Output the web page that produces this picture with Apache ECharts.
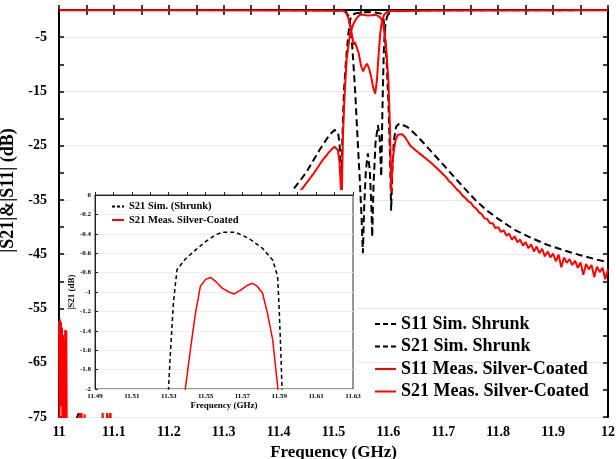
<!DOCTYPE html>
<html>
<head>
<meta charset="utf-8">
<script src="https://cdn.jsdelivr.net/npm/echarts/dist/echarts.min.js"></script>
<style>
  html, body { margin: 0; padding: 0; background: #fff; }
  #chart { width: 616px; height: 459px; }
</style>
</head>
<body>
<div id="chart"></div>
<script>
// ---- Filter response data (frequency in GHz, magnitude in dB) ----

// S11, simulated, shrunk cavity
const s11SimFreq = [11.0, 11.2, 11.4, 11.5, 11.51, 11.5145, 11.518, 11.522, 11.525, 11.528, 11.531, 11.534,
  11.537, 11.540, 11.544, 11.548, 11.551, 11.5535, 11.556, 11.559, 11.5626, 11.566, 11.569, 11.5705,
  11.573, 11.5765, 11.5809, 11.584, 11.587, 11.589, 11.5905, 11.592, 11.594, 11.597, 11.600, 11.605,
  11.62, 11.8, 12.0];
const s11SimDb = [-0.01, -0.01, -0.02, -0.05, -0.06, -0.02, -0.1, -0.2, -0.5, -1.3, -3.2, -6.5,
  -11, -16, -24, -31.5, -38, -44.8, -36, -29.5, -26.4, -29.5, -36, -41.8,
  -32, -24.5, -21.2, -23.5, -30.7, -19, -12, -6.5, -3.2, -1.4, -0.6, -0.2,
  -0.08, -0.03, -0.02];

// S21, simulated, shrunk cavity
const s21SimFreq = [11.0, 11.02, 11.04, 11.10, 11.15, 11.20, 11.25, 11.30, 11.35, 11.40, 11.4258, 11.45,
  11.4745, 11.4927, 11.5018, 11.508, 11.511, 11.513, 11.5145, 11.516, 11.519, 11.523, 11.527, 11.5299,
  11.531, 11.5326, 11.5345, 11.539, 11.545, 11.550, 11.5554, 11.559, 11.5664, 11.5737, 11.5809, 11.5864,
  11.5891, 11.590, 11.5908, 11.5915, 11.594, 11.597, 11.600, 11.603, 11.605, 11.607, 11.610, 11.614,
  11.620, 11.635, 11.65, 11.665, 11.68, 11.70, 11.72, 11.74, 11.76, 11.78, 11.80, 11.83,
  11.86, 11.89, 11.92, 11.95, 11.98, 12.0];
const s21SimDb = [-80, -79, -73, -66, -61, -56.5, -52, -47.5, -42.5, -37, -33.2, -30.0,
  -25.8, -23.0, -22.1, -22.5, -24.5, -29, -36, -24, -15, -9, -4.5, -2.0,
  -1.6, -1.1, -0.77, -0.66, -0.56, -0.48, -0.41, -0.385, -0.385, -0.45, -0.55, -0.67,
  -0.84, -1.2, -1.6, -2.0, -5, -10, -17, -27, -37, -30, -24, -21.5,
  -20.9, -21.6, -23.0, -24.6, -26.3, -28.5, -30.8, -33.0, -35.2, -37.0, -38.5, -40.5,
  -42.0, -43.3, -44.3, -45.2, -46.0, -46.5];

// S11, measured, silver-coated
const s11MeasFreq = [11.0, 11.2, 11.4, 11.5, 11.51, 11.5145, 11.52, 11.524, 11.527, 11.531, 11.534, 11.537,
  11.539, 11.542, 11.546, 11.550, 11.554, 11.558, 11.561, 11.565, 11.569, 11.573, 11.576, 11.579,
  11.582, 11.585, 11.588, 11.592, 11.597, 11.605, 11.62, 11.7, 12.0];
const s11MeasDb = [-0.05, -0.06, -0.08, -0.15, -0.2, -0.1, -0.25, -0.7, -1.5, -3, -4.8, -6.4,
  -5.9, -6.2, -8, -10.2, -11.3, -10.4, -9.9, -10.8, -12.5, -14.6, -15.4, -13,
  -8.5, -4.5, -2.2, -0.9, -0.4, -0.15, -0.2, -0.1, -0.06];

// S21, measured, silver-coated
const s21MeasFreq = [11.000, 11.001, 11.0018, 11.0028, 11.0036, 11.0046, 11.0054, 11.0062, 11.0072, 11.008,
  11.0092, 11.0102, 11.0112, 11.0125, 11.0133, 11.0142, 11.016, 11.037, 11.0375, 11.0385,
  11.0392, 11.0402, 11.041, 11.042, 11.046, 11.0465, 11.0475, 11.079, 11.0795, 11.0805,
  11.087, 11.0875, 11.0885, 11.092, 11.0925, 11.0935, 11.0945, 11.20, 11.30, 11.35,
  11.40, 11.441, 11.462, 11.4805, 11.4927, 11.5018, 11.508, 11.511, 11.5135, 11.5148,
  11.517, 11.520, 11.524, 11.530, 11.535, 11.539, 11.542, 11.5445, 11.5472, 11.550,
  11.5527, 11.5554, 11.559, 11.5627, 11.5655, 11.569, 11.5728, 11.5755, 11.578, 11.5809,
  11.5836, 11.5864, 11.5891, 11.592, 11.596, 11.600, 11.603, 11.605, 11.607, 11.610,
  11.613, 11.617, 11.620, 11.625, 11.630, 11.640, 11.650, 11.660, 11.670, 11.680,
  11.690, 11.700, 11.705, 11.710, 11.715, 11.720, 11.725, 11.730, 11.735, 11.740,
  11.745, 11.750, 11.755, 11.760, 11.765, 11.770, 11.775, 11.780, 11.785, 11.790,
  11.795, 11.800, 11.805, 11.810, 11.815, 11.820, 11.825, 11.830, 11.835, 11.840,
  11.845, 11.850, 11.855, 11.860, 11.865, 11.870, 11.875, 11.880, 11.885, 11.890,
  11.895, 11.900, 11.905, 11.910, 11.915, 11.920, 11.925, 11.930, 11.935, 11.940,
  11.945, 11.950, 11.955, 11.960, 11.965, 11.970, 11.975, 11.980, 11.985, 11.990,
  11.995, 12.000];
const s21MeasDb = [-57.5, -75.5, -57, -73, -57.5, -67, -58.5, -77, -60, -79,
  -61, -77, -59, -64, -59, -78, -80, -80, -74, -80,
  -73.8, -80, -74.2, -80, -80, -74.5, -80, -80, -74, -80,
  -80, -73.9, -80, -80, -74.3, -80, -69, -66, -58, -47,
  -39, -33.2, -30.4, -27.6, -26.1, -25.2, -25.8, -28, -33, -36,
  -24, -16, -9, -4.5, -2.9, -2.0, -1.56, -1.22, -0.94, -0.87,
  -0.85, -0.89, -0.96, -1.0, -1.02, -0.98, -0.93, -0.91, -0.94, -1.01,
  -1.22, -1.49, -1.97, -3.5, -7, -13, -22, -33.5, -29, -25.8,
  -24, -23, -22.7, -22.9, -23.4, -25.0, -25.9, -26.7, -27.5, -28.4,
  -29.3, -30.3, -30.8, -31.5, -31.9, -32.5, -33.1, -33.5, -34.2, -34.6,
  -35.2, -35.5, -36.2, -36.6, -37.3, -37.6, -38.4, -38.5, -39.3, -39.3,
  -40.2, -40.0, -40.9, -40.6, -41.6, -41.2, -42.3, -41.7, -42.8, -42.3,
  -43.4, -42.8, -43.9, -43.2, -44.5, -43.6, -44.8, -44.0, -45.4, -44.5,
  -45.6, -44.9, -46.3, -45.1, -47.4, -45.6, -46.6, -45.9, -47.0, -46.2,
  -47.5, -46.5, -48.8, -46.8, -47.8, -47.0, -49.2, -47.3, -48.3, -47.5,
  -49.6, -47.8];

// ---- Chart ----
const FONT = '"Liberation Serif", "Times New Roman", serif';
const BLACK = '#000';
const RED = '#ff0000';
const pairs = (xs, ys) => xs.map((x, i) => [x, ys[i]]);

const mainFreqLabel = v => {
  const k = Math.round(v * 100);
  return k % 10 === 0 ? String(Math.round(v * 10) / 10) : '';
};
const mainDbLabel = v => (Math.round(v) % 10 === -5 ? String(Math.round(v)) : '');
const insetFreqLabel = v => {
  const k = Math.round((v - 11.49) * 100);
  return k % 2 === 0 ? v.toFixed(2) : '';
};
const insetDbLabel = v => String(Number(v.toFixed(1)) + 0);

const boldText = (size) => ({ fontFamily: FONT, fontWeight: 'bold', fontSize: size, color: BLACK });

const mainTick = { show: true, inside: true, length: 5, lineStyle: { color: BLACK, width: 1.5 } };
const mainLine = { show: true, lineStyle: { color: BLACK, width: 2 } };

const chart = echarts.init(document.getElementById('chart'), null, { renderer: 'canvas' });

chart.setOption({
  animation: false,
  backgroundColor: '#fff',
  grid: [
    { left: 59, right: 8, top: 10, bottom: 42, outerBoundsMode: 'none', containLabel: false },
    { left: 95, top: 195, width: 258, height: 194, show: true, backgroundColor: '#fff',
      borderColor: '#333', borderWidth: 1, z: 5, outerBoundsMode: 'none', containLabel: false }
  ],
  graphic: [
    // white panel that carries the zoomed passband view
    { type: 'rect', shape: { x: 70, y: 190, width: 288, height: 223 },
      style: { fill: '#fff' }, z: 4, silent: true }
  ],
  xAxis: [
    { gridIndex: 0, type: 'value', position: 'bottom', min: 11, max: 12, interval: 0.05,
      axisLine: mainLine, axisTick: mainTick, splitLine: { show: false },
      axisLabel: Object.assign({ margin: 8, formatter: mainFreqLabel, showMinLabel: true, showMaxLabel: true }, boldText(14)),
      name: 'Frequency (GHz)', nameLocation: 'middle', nameGap: 21, nameTextStyle: boldText(17) },
    { gridIndex: 0, type: 'value', position: 'top', min: 11, max: 12, interval: 0.05,
      axisLine: mainLine, axisTick: mainTick, splitLine: { show: false }, axisLabel: { show: false } },
    { gridIndex: 1, type: 'value', position: 'bottom', min: 11.49, max: 11.63, interval: 0.01, z: 6,
      axisLine: { show: true, lineStyle: { color: '#222', width: 1 } },
      axisTick: { show: true, inside: true, length: 3, lineStyle: { color: '#222', width: 1 } },
      splitLine: { show: false },
      axisLabel: Object.assign({ margin: 4, formatter: insetFreqLabel, showMinLabel: true, showMaxLabel: true }, boldText(7)),
      name: 'Frequency (GHz)', nameLocation: 'middle', nameGap: 12, nameTextStyle: boldText(9) }
  ],
  yAxis: [
    { gridIndex: 0, type: 'value', position: 'left', min: -75, max: 0, interval: 5,
      axisLine: mainLine, axisTick: mainTick,
      splitLine: { show: true, lineStyle: { color: ['#e8e8e8', 'rgba(0,0,0,0)'], width: 1 } },
      axisLabel: Object.assign({ margin: 12, formatter: mainDbLabel, showMinLabel: true, showMaxLabel: true }, boldText(14)),
      name: '|S21|&|S11| (dB)', nameLocation: 'middle', nameGap: 27,
      nameTextStyle: Object.assign({ padding: [0, 0, 0, 46] }, boldText(18)) },
    { gridIndex: 0, type: 'value', position: 'right', min: -75, max: 0, interval: 5,
      axisLine: mainLine, axisTick: mainTick, splitLine: { show: false }, axisLabel: { show: false } },
    { gridIndex: 1, type: 'value', position: 'left', min: -2, max: 0, interval: 0.2, z: 6,
      axisLine: { show: true, lineStyle: { color: '#222', width: 1 } },
      axisTick: { show: true, inside: true, length: 3, lineStyle: { color: '#222', width: 1 } },
      splitLine: { show: true, lineStyle: { color: '#eeeeee', width: 1 } },
      axisLabel: Object.assign({ margin: 4, formatter: insetDbLabel, showMinLabel: true, showMaxLabel: true }, boldText(7)),
      name: '|S21 (dB)', nameLocation: 'middle', nameGap: 15, nameTextStyle: boldText(9) }
  ],
  legend: [
    { orient: 'vertical', left: 369, top: 310, itemWidth: 21, itemHeight: 14, itemGap: 4.5,
      textStyle: boldText(18), z: 10, selectedMode: false, itemStyle: { opacity: 0 },
      data: [
        { name: 'S11 Sim. Shrunk', lineStyle: { type: [5, 3] } },
        { name: 'S21 Sim. Shrunk', lineStyle: { type: [5, 3] } },
        'S11 Meas. Silver-Coated', 'S21 Meas. Silver-Coated'] },
    { orient: 'vertical', left: 106, top: 196, itemWidth: 12, itemHeight: 8, itemGap: 2.5,
      textStyle: boldText(10.5), z: 10, selectedMode: false, itemStyle: { opacity: 0 },
      data: [{ name: 'S21 Sim. (Shrunk)', lineStyle: { type: [3, 2] } }, 'S21 Meas. Silver-Coated'] }
  ],
  series: [
    { name: 'S11 Sim. Shrunk', type: 'line', xAxisIndex: 0, yAxisIndex: 0, z: 2,
      symbol: 'none', showSymbol: false, data: pairs(s11SimFreq, s11SimDb),
      itemStyle: { color: BLACK }, lineStyle: { color: BLACK, width: 2, type: [7, 4] } },
    { name: 'S21 Sim. Shrunk', type: 'line', xAxisIndex: 0, yAxisIndex: 0, z: 2,
      symbol: 'none', showSymbol: false, data: pairs(s21SimFreq, s21SimDb),
      itemStyle: { color: BLACK }, lineStyle: { color: BLACK, width: 2, type: [7, 4] } },
    { name: 'S11 Meas. Silver-Coated', type: 'line', xAxisIndex: 0, yAxisIndex: 0, z: 3,
      symbol: 'none', showSymbol: false, data: pairs(s11MeasFreq, s11MeasDb),
      itemStyle: { color: RED }, lineStyle: { color: RED, width: 2 } },
    { name: 'S21 Meas. Silver-Coated', type: 'line', xAxisIndex: 0, yAxisIndex: 0, z: 3,
      symbol: 'none', showSymbol: false, data: pairs(s21MeasFreq, s21MeasDb),
      itemStyle: { color: RED }, lineStyle: { color: RED, width: 2 } },
    // zoomed passband view
    { name: 'S21 Sim. (Shrunk)', type: 'line', xAxisIndex: 2, yAxisIndex: 2, z: 7,
      symbol: 'none', showSymbol: false, data: pairs(s21SimFreq, s21SimDb),
      itemStyle: { color: BLACK }, lineStyle: { color: BLACK, width: 1.5, type: [4, 3] } },
    { name: 'S21 Meas. Silver-Coated', type: 'line', xAxisIndex: 2, yAxisIndex: 2, z: 7,
      symbol: 'none', showSymbol: false, data: pairs(s21MeasFreq, s21MeasDb),
      itemStyle: { color: RED }, lineStyle: { color: RED, width: 1.5 } }
  ]
});
</script>
</body>
</html>
